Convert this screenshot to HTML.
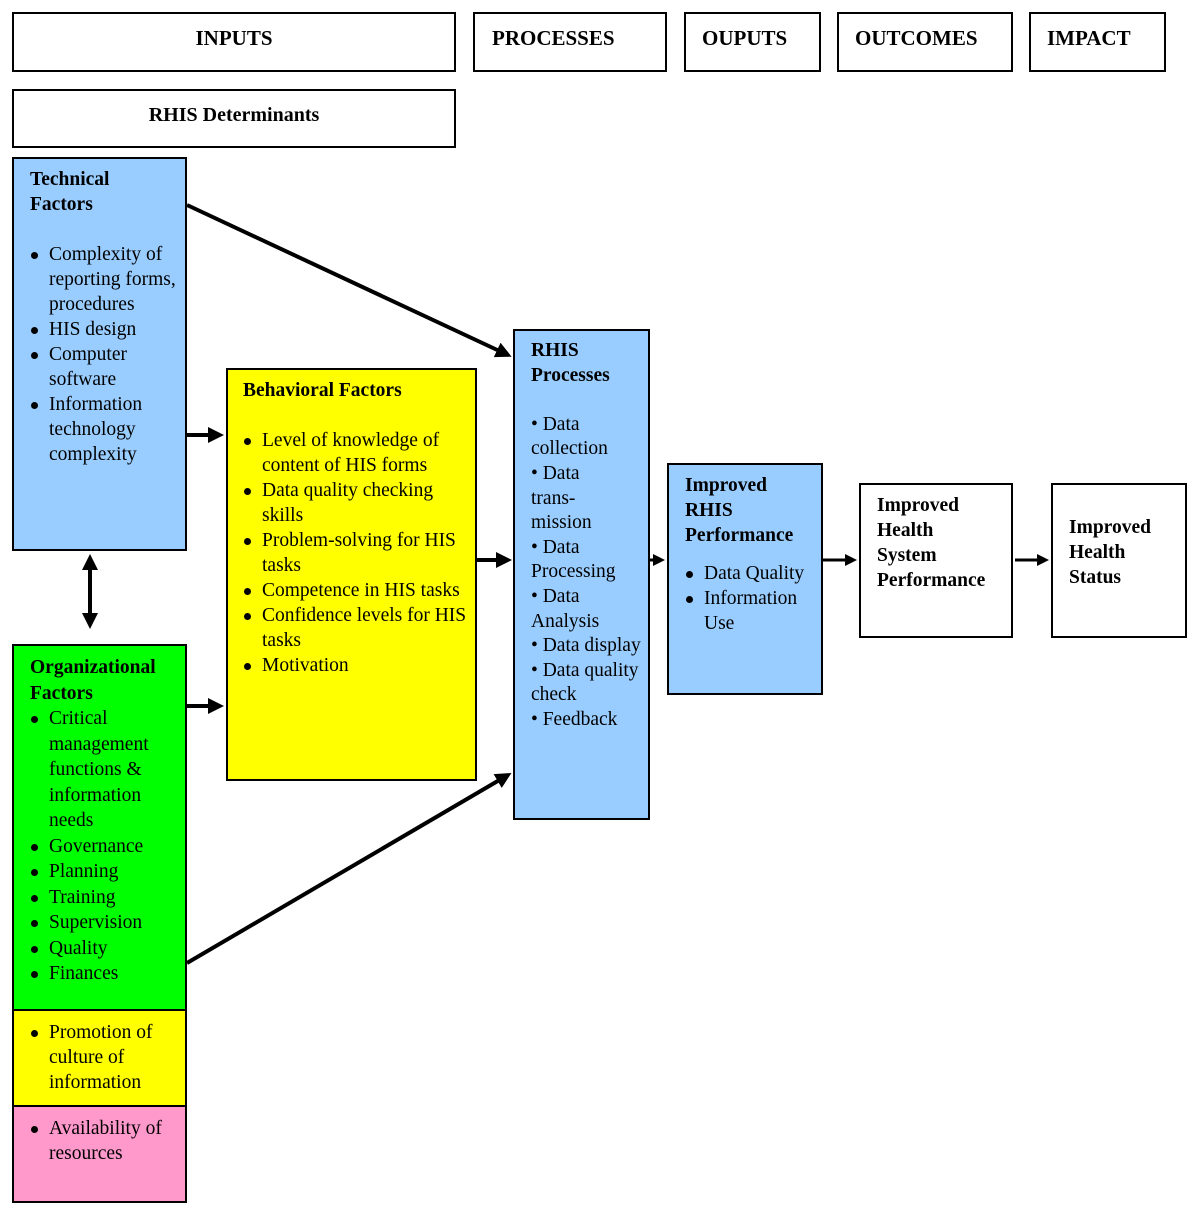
<!DOCTYPE html>
<html><head><style>
body{margin:0;width:1200px;height:1216px;background:#fff;position:relative;font-family:"Liberation Serif",serif;color:#000;overflow:hidden}
.b{position:absolute;border:2px solid #000;box-sizing:border-box}
.h{font-weight:bold;font-size:21px;line-height:24px}
.t{position:absolute;font-size:19.5px;line-height:25px}
.t b{font-size:19.5px}
ul{margin:0;padding:0;list-style:none}
li{position:relative;padding-left:19px}
li:before{content:"";position:absolute;left:1px;top:10px;width:7px;height:7px;border-radius:50%;background:#000}
</style></head><body>
<div class="b h" style="left:12px;top:12px;width:444px;height:60px;text-align:center;padding-top:12px">INPUTS</div>
<div class="b h" style="left:473px;top:12px;width:194px;height:60px;padding:12px 0 0 17px">PROCESSES</div>
<div class="b h" style="left:684px;top:12px;width:137px;height:60px;padding:12px 0 0 16px">OUPUTS</div>
<div class="b h" style="left:837px;top:12px;width:176px;height:60px;padding:12px 0 0 16px">OUTCOMES</div>
<div class="b h" style="left:1029px;top:12px;width:137px;height:60px;padding:12px 0 0 16px">IMPACT</div>
<div class="b h" style="left:12px;top:89px;width:444px;height:59px;text-align:center;padding-top:12px;font-size:20px">RHIS Determinants</div>

<div class="b" style="left:12px;top:157px;width:175px;height:394px;background:#99ccff"></div>
<div class="t" style="left:30px;top:167px;width:150px"><b>Technical<br>Factors</b><br><br>
<ul><li>Complexity of reporting forms, procedures</li><li>HIS design</li><li>Computer software</li><li>Information technology complexity</li></ul></div>

<div class="b" style="left:226px;top:368px;width:251px;height:413px;background:#ffff00"></div>
<div class="t" style="left:243px;top:378px;width:225px"><b>Behavioral Factors</b><br><br>
<ul><li>Level of knowledge of content of HIS forms</li><li>Data quality checking skills</li><li>Problem-solving for HIS tasks</li><li>Competence in HIS tasks</li><li>Confidence levels for HIS tasks</li><li>Motivation</li></ul></div>

<div class="b" style="left:12px;top:644px;width:175px;height:367px;background:#00ff00"></div>
<div class="t" style="left:30px;top:655px;width:155px;line-height:25.5px"><b>Organizational<br>Factors</b>
<ul><li>Critical management functions &amp; information needs</li><li>Governance</li><li>Planning</li><li>Training</li><li>Supervision</li><li>Quality</li><li>Finances</li></ul></div>

<div class="b" style="left:12px;top:1009px;width:175px;height:98px;background:#ffff00"></div>
<div class="t" style="left:30px;top:1020px;width:150px"><ul><li>Promotion of culture of information</li></ul></div>
<div class="b" style="left:12px;top:1105px;width:175px;height:98px;background:#ff99cc"></div>
<div class="t" style="left:30px;top:1116px;width:150px"><ul><li>Availability of resources</li></ul></div>

<div class="b" style="left:513px;top:329px;width:137px;height:491px;background:#99ccff"></div>
<div class="t" style="left:531px;top:339px;width:118px;line-height:24.6px"><b>RHIS<br>Processes</b><br><br>• Data collection<br>• Data<br>trans-<br>mission<br>• Data Processing<br>• Data Analysis<br>• Data display<br>• Data quality check<br>• Feedback</div>

<div class="b" style="left:667px;top:463px;width:156px;height:232px;background:#99ccff"></div>
<div class="t" style="left:685px;top:473px;width:135px"><b>Improved<br>RHIS<br>Performance</b><br>
<ul style="margin-top:13px"><li>Data Quality</li><li>Information Use</li></ul></div>

<div class="b" style="left:859px;top:483px;width:154px;height:155px"></div>
<div class="t" style="left:877px;top:493px"><b>Improved<br>Health<br>System<br>Performance</b></div>
<div class="b" style="left:1051px;top:483px;width:136px;height:155px"></div>
<div class="t" style="left:1069px;top:515px"><b>Improved<br>Health<br>Status</b></div>

<svg width="1200" height="1216" style="position:absolute;left:0;top:0">
<defs><marker id="a" markerWidth="4" markerHeight="4" refX="3" refY="2" orient="auto" markerUnits="strokeWidth"><path d="M0,0 L4,2 L0,4 z"/></marker>
<marker id="r" markerWidth="4" markerHeight="4" refX="1" refY="2" orient="auto" markerUnits="strokeWidth"><path d="M4,0 L0,2 L4,4 z"/></marker></defs>
<g stroke="#000" stroke-width="4" fill="none">
<line x1="187" y1="205" x2="508" y2="355" marker-end="url(#a)"/>
<line x1="187" y1="435" x2="220" y2="435" marker-end="url(#a)"/>
<line x1="187" y1="706" x2="220" y2="706" marker-end="url(#a)"/>
<line x1="187" y1="963" x2="508" y2="775" marker-end="url(#a)"/>
<line x1="477" y1="560" x2="508" y2="560" marker-end="url(#a)"/>
<line x1="90" y1="558" x2="90" y2="625" marker-start="url(#r)" marker-end="url(#a)"/>
<line x1="650" y1="560" x2="662" y2="560" stroke-width="3" marker-end="url(#a)"/>
<line x1="823" y1="560" x2="854" y2="560" stroke-width="3" marker-end="url(#a)"/>
<line x1="1015" y1="560" x2="1046" y2="560" stroke-width="3" marker-end="url(#a)"/>
</g></svg>
</body></html>
